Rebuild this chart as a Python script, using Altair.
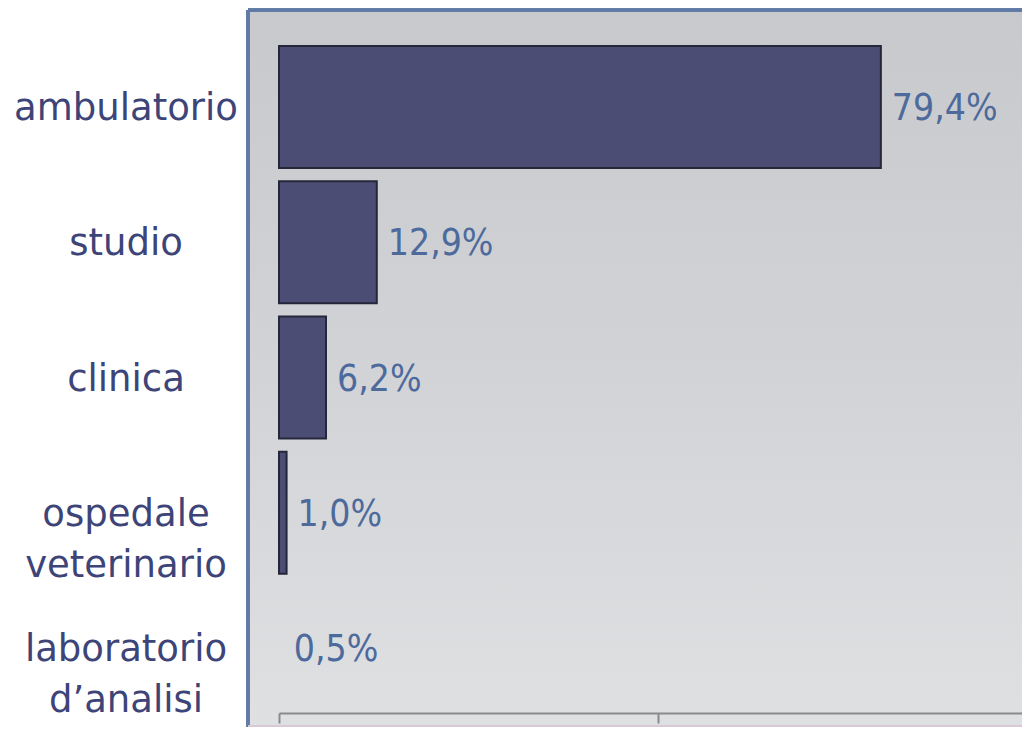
import altair as alt
import pandas as pd

categories = ["ambulatorio", "studio", "clinica", "ospedale\nveterinario", "laboratorio\nd’analisi"]
values = [79.4, 12.9, 6.2, 1.0, 0.5]
value_labels = ["79,4%", "12,9%", "6,2%", "1,0%", "0,5%"]

df = pd.DataFrame({"cat": categories, "val": values, "lab": value_labels})

W, H = 774, 703

xscale = alt.Scale(domain=[0, 100], range=[31, 789], nice=False, zero=True)
yscale = alt.Scale(domain=categories, range=[36, 699], paddingInner=0.098, paddingOuter=0)

bg = alt.Chart(df).mark_rect(
    color=alt.Gradient(
        gradient="linear", x1=0, y1=0, x2=0, y2=1,
        stops=[alt.GradientStop(color="#c8c9cc", offset=0),
               alt.GradientStop(color="#d2d3d6", offset=0.5),
               alt.GradientStop(color="#dfe0e2", offset=1)],
    )
).encode(x=alt.value(0), x2=alt.value(W + 20), y=alt.value(0), y2=alt.value(H + 14))

frame_left = alt.Chart(df).mark_rule(color="#5f7ba5", strokeWidth=3).encode(
    x=alt.value(0), y=alt.value(0), y2=alt.value(H + 14))
frame_top = alt.Chart(df).mark_rule(color="#5f7ba5", strokeWidth=3).encode(
    x=alt.value(0), x2=alt.value(W + 20), y=alt.value(0))
frame_bottom = alt.Chart(df).mark_rule(color="#d9c9d6", strokeWidth=2).encode(
    x=alt.value(0), x2=alt.value(W + 20), y=alt.value(H + 13))

bars = alt.Chart(df).transform_filter("datum.val >= 1").mark_bar(
    color="#4b4d74", stroke="#26263a", strokeWidth=2
).encode(
    x=alt.X("val:Q", scale=xscale,
            axis=alt.Axis(title=None, labels=False, grid=False, values=[0, 50, 100],
                          domainColor="#8a8a8e", domainWidth=2, tickColor="#8a8a8e",
                          tickWidth=2, tickSize=10, zindex=1)),
    y=alt.Y("cat:N", scale=yscale, sort=categories, axis=None),
)

texts = alt.Chart(df).mark_text(
    align="left", baseline="middle", dx=11, dy=2, font="DejaVu Sans Condensed",
    fontSize=37, color="#4d6a9c"
).encode(
    x=alt.X("val:Q", scale=xscale),
    y=alt.Y("cat:N", scale=yscale, sort=categories),
    text="lab:N",
)

cat_labels = alt.Chart(df).mark_text(
    align="center", baseline="middle", font="DejaVu Sans", fontSize=37,
    color="#3d4478", lineBreak="\n", lineHeight=51, dy=2
).encode(
    x=alt.value(-122),
    y=alt.Y("cat:N", scale=yscale, sort=categories),
    text="cat:N",
)

chart = alt.layer(bg, frame_left, frame_top, frame_bottom, bars, texts, cat_labels).properties(
    width=W, height=H,
    autosize=alt.AutoSizeParams(type="none"),
    padding={"left": 240, "top": 2, "right": 0, "bottom": 14},
    background="#ffffff",
).configure_view(stroke=None)

chart.save("out.html", embed_options={"renderer": "svg", "actions": False})
